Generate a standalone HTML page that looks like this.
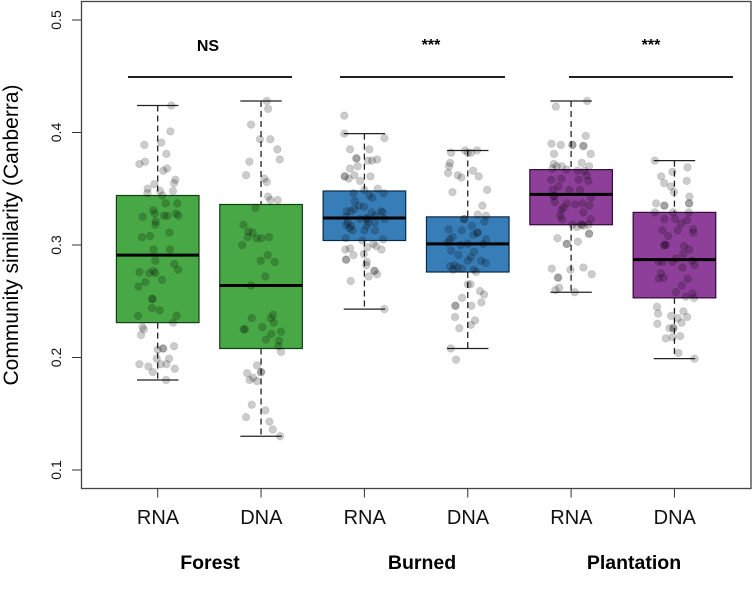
<!DOCTYPE html>
<html lang="en">
<head>
<meta charset="utf-8">
<title>Community similarity boxplots</title>
<style>
html,body{margin:0;padding:0;background:#fff;}
svg{display:block;font-family:"Liberation Sans",Arial,sans-serif;}
</style>
</head>
<body>
<svg id="chart" xmlns="http://www.w3.org/2000/svg" width="753" height="599" viewBox="0 0 753 599"></svg>
<script>
const categories = ['RNA','DNA','RNA','DNA','RNA','DNA'];
const categoryKeys = ['forest-rna','forest-dna','burned-rna','burned-dna','plantation-rna','plantation-dna'];
const habitats = ['Forest','Burned','Plantation'];
const significance = ['NS','***','***'];
const yTicks = [0.1,0.2,0.3,0.4,0.5];
const whiskerHigh = [0.424,0.428,0.399,0.384,0.428,0.375];
const upperQuartile = [0.344,0.336,0.348,0.325,0.367,0.329];
const medians = [0.291,0.264,0.324,0.301,0.345,0.287];
const lowerQuartile = [0.231,0.208,0.304,0.276,0.318,0.253];
const whiskerLow = [0.180,0.130,0.243,0.208,0.258,0.199];

const forestRnaValues = [.424,.401,.389,.391,.381,.374,.372,.368,.366,.358,.355,.354,.350,.346,.348,.348,.344,.337,.337,.331,.328,.325,.326,.326,.328,.326,.321,.318,.308,.307,.311,.296,.296,.286,.283,.278,.276,.275,.277,.275,.269,.267,.263,.252,.252,.244,.242,.237,.237,.231,.227,.225,.220,.210,.207,.208,.208,.199,.199,.194,.192,.194,.194,.190,.187,.180];
const forestRnaJitter = [.132,.123,-.129,.035,.084,-.123,-.177,.090,.055,.171,.158,-.032,-.097,-.100,.023,.148,.045,.077,.190,-.042,-.029,-.145,.061,.094,.177,.200,-.019,-.023,-.074,-.152,.113,-.039,.119,-.023,.161,.197,-.177,-.081,-.042,-.023,.042,-.119,-.187,-.052,-.052,-.055,.019,-.190,.184,.148,-.148,-.135,-.161,.158,0,.052,.052,-.010,.110,-.177,-.090,.029,.084,.165,-.048,.081];

const forestDnaValues = [.428,.421,.407,.394,.394,.385,.374,.376,.362,.359,.356,.343,.340,.340,.333,.318,.312,.311,.307,.306,.306,.307,.300,.291,.286,.285,.272,.264,.238,.235,.235,.231,.227,.225,.225,.223,.221,.216,.215,.210,.205,.193,.186,.187,.187,.182,.180,.179,.158,.153,.147,.143,.136,.130];
const forestDnaJitter = [.055,.068,-.097,-.010,.090,.158,-.113,.181,-.145,.032,.055,.068,.090,.161,-.052,-.171,-.123,-.081,-.129,-.042,.003,.077,-.181,.065,-.003,.132,.042,-.097,.116,.094,-.090,.123,.013,-.168,-.155,.194,.100,.048,.174,.168,.194,-.039,-.135,0,0,-.077,-.110,-.039,-.090,.042,-.145,.081,.113,.184];

const burnedRnaValues = [.415,.399,.395,.385,.385,.377,.377,.375,.375,.376,.370,.368,.361,.361,.362,.359,.361,.357,.350,.349,.346,.346,.344,.342,.339,.335,.334,.332,.330,.330,.329,.330,.329,.325,.323,.324,.326,.323,.318,.317,.317,.320,.315,.313,.313,.313,.306,.305,.304,.301,.298,.299,.296,.297,.296,.291,.292,.287,.287,.285,.282,.277,.277,.274,.272,.268,.243,.323,.320,.320];
const burnedRnaJitter = [-.194,-.194,.194,-.139,.048,-.077,-.077,.035,.074,.123,-.065,-.139,-.190,-.190,-.097,-.152,.058,-.042,.129,0,-.106,.187,.048,.077,-.094,-.052,-.003,-.097,-.171,-.132,.071,.161,.177,-.174,-.042,.023,.103,.194,-.177,-.126,.023,.103,-.145,-.116,0,.103,-.181,.181,-.019,.087,.029,.113,-.184,-.139,.165,-.106,-.006,-.177,-.177,.023,.019,.097,.097,.123,.042,-.132,.194,.023,.039,-.161];

const burnedDnaValues = [.382,.384,.382,.384,.382,.373,.370,.364,.366,.362,.360,.361,.349,.347,.335,.327,.326,.323,.323,.321,.314,.313,.317,.311,.311,.309,.307,.305,.301,.301,.305,.302,.300,.294,.295,.291,.289,.286,.286,.284,.281,.282,.280,.278,.279,.278,.276,.265,.265,.259,.256,.253,.249,.246,.246,.246,.236,.233,.229,.226,.208,.198];
const burnedDnaJitter = [-.161,-.026,.032,.090,0,-.171,-.181,-.190,.052,-.097,-.061,.106,.187,-.148,.142,.097,.177,-.035,-.035,.161,-.184,-.058,.039,.094,.094,.055,-.145,-.177,0,.148,.177,-.194,-.068,.061,-.161,-.090,.029,0,.129,.174,-.171,-.129,-.097,-.142,-.055,.058,.081,0,.026,.119,.158,-.055,.132,-.119,-.119,.035,-.123,.071,.029,-.081,-.165,-.113];

const plantationRnaValues = [.428,.423,.397,.390,.389,.389,.389,.388,.388,.381,.381,.372,.373,.370,.368,.370,.370,.367,.366,.366,.362,.358,.359,.358,.357,.352,.349,.349,.349,.344,.343,.342,.338,.337,.336,.337,.335,.333,.331,.329,.326,.323,.323,.318,.316,.318,.318,.317,.318,.310,.310,.306,.303,.301,.301,.279,.278,.280,.274,.271,.271,.262,.260,.258];
const plantationRnaJitter = [.155,-.148,.142,-.190,-.100,.013,.013,.119,.119,-.165,.190,-.168,.103,.174,-.181,-.139,-.090,-.042,.061,.129,.152,-.194,-.094,.074,.168,-.123,.087,-.177,-.016,-.161,-.171,.194,-.158,-.042,.039,.110,.177,-.074,-.094,.119,-.106,.190,-.087,.013,.055,.100,.100,.123,.168,.174,.174,-.132,.065,-.042,-.042,-.187,-.006,.119,.200,-.126,-.126,-.116,-.152,.035];

const plantationDnaValues = [.375,.369,.365,.361,.357,.355,.352,.347,.343,.337,.335,.335,.337,.337,.329,.329,.329,.323,.323,.322,.319,.313,.313,.314,.311,.308,.300,.300,.300,.299,.296,.292,.288,.285,.285,.285,.286,.280,.282,.275,.270,.271,.270,.264,.258,.257,.254,.253,.245,.239,.241,.237,.235,.236,.231,.230,.226,.226,.226,.219,.217,.218,.204,.199];
const plantationDnaJitter = [-.190,.126,-.019,-.129,.119,-.100,-.035,-.006,.145,-.177,-.097,-.097,.142,.142,-.190,-.013,.139,-.097,.006,.123,.065,-.116,.032,.181,.181,-.061,-.097,-.097,-.081,.094,.142,.084,.016,-.152,-.116,-.019,.174,.077,.194,-.132,-.152,-.106,.129,.071,.013,.174,.110,.190,-.168,-.158,.087,-.032,.032,.123,.068,-.165,-.048,-.010,-.010,.055,-.084,-.019,.039,.194];

const seriesValues = [forestRnaValues,forestDnaValues,burnedRnaValues,burnedDnaValues,plantationRnaValues,plantationDnaValues];
const seriesJitter = [forestRnaJitter,forestDnaJitter,burnedRnaJitter,burnedDnaJitter,plantationRnaJitter,plantationDnaJitter];

const NS = 'http://www.w3.org/2000/svg';
const svg = document.getElementById('chart');
const boxColors = ['#48a845','#48a845','#377eb8','#377eb8','#8e3f99','#8e3f99'];
const boxEdges = ['#123f12','#123f12','#0b2a45','#0b2a45','#2f1036','#2f1036'];

function yScale(v){ return 470 - (v - 0.1) * 1125; }
function xScale(i){ return 157.7 + 103.35 * i; }

function make(tag, attrs, parent, text){
  const el = document.createElementNS(NS, tag);
  for (const k in attrs) el.setAttribute(k, attrs[k]);
  if (text !== undefined) el.textContent = text;
  (parent || svg).appendChild(el);
  return el;
}

/* plot frame */
const frame = make('rect', {x:81.5,y:1.5,width:669.5,height:487,fill:'none',stroke:'#444','stroke-width':1.3});



/* y axis */
yTicks.forEach(function(t){
  const tick = make('line', {x1:72,x2:81.5,y1:yScale(t),y2:yScale(t),stroke:'#333','stroke-width':1});
  
  
  const y = yScale(t);
  const label = make('text', {transform:'translate(61,'+y+') rotate(-90)','text-anchor':'middle','font-size':14,fill:'#111'}, svg, t.toFixed(1));
  
  
});
const yTitle = make('text', {transform:'translate(18,235) rotate(-90)','text-anchor':'middle','font-size':21,fill:'#000'}, svg, 'Community similarity (Canberra)');



/* boxes, whiskers, x axis */
categories.forEach(function(c, i){
  const x = xScale(i);
  const group = make('g', {});
  
  
  make('line', {x1:x,x2:x,y1:yScale(whiskerHigh[i]),y2:yScale(upperQuartile[i]),stroke:'#222','stroke-width':1.3,'stroke-dasharray':'6 4'}, group);
  make('line', {x1:x,x2:x,y1:yScale(lowerQuartile[i]),y2:yScale(whiskerLow[i]),stroke:'#222','stroke-width':1.3,'stroke-dasharray':'6 4'}, group);
  make('line', {x1:x-20.7,x2:x+20.7,y1:yScale(whiskerHigh[i]),y2:yScale(whiskerHigh[i]),stroke:'#222','stroke-width':1.3}, group);
  make('line', {x1:x-20.7,x2:x+20.7,y1:yScale(whiskerLow[i]),y2:yScale(whiskerLow[i]),stroke:'#222','stroke-width':1.3}, group);
  make('rect', {x:x-41.3,width:82.6,y:yScale(upperQuartile[i]),height:yScale(lowerQuartile[i])-yScale(upperQuartile[i]),fill:boxColors[i],stroke:boxEdges[i],'stroke-width':1.2}, group);
  make('line', {x1:x-41.3,x2:x+41.3,y1:yScale(medians[i]),y2:yScale(medians[i]),stroke:'#000','stroke-width':3}, group);

  const tick = make('line', {x1:x,x2:x,y1:488.5,y2:497.5,stroke:'#333','stroke-width':1});
  
  
  const label = make('text', {x:x+0.3,y:524,'text-anchor':'middle','font-size':20,fill:'#111'}, svg, c);
  
  
});

/* jittered points */
seriesValues.forEach(function(values, i){
  const group = make('g', {});
  
  
  values.forEach(function(v, k){
    const dot = make('circle', {cx:xScale(i + seriesJitter[i][k]),cy:yScale(v),r:3.8,fill:'rgba(0,0,0,.2)',stroke:'rgba(0,0,0,.12)','stroke-width':0.8}, group);
    
    
  });
});

/* habitat labels, significance */
const habitatCenters = [210,422,634];
const sigCenters = [208,431,651];
const sigSpans = [[128,292],[340,505],[569,733]];
habitats.forEach(function(h, i){
  const label = make('text', {x:habitatCenters[i],y:569,'text-anchor':'middle','font-size':19.5,'font-weight':'bold',fill:'#000'}, svg, h);
  
  
  const sig = make('text', {x:sigCenters[i],y:significance[i]==='NS'?51:50,'text-anchor':'middle','font-size':significance[i]==='NS'?16:16,'font-weight':'bold',fill:'#000'}, svg, significance[i]);
  
  
  const bar = make('line', {x1:sigSpans[i][0],x2:sigSpans[i][1],y1:77,y2:77,stroke:'#000','stroke-width':1.8});
  
  
});
</script>
</body>
</html>
